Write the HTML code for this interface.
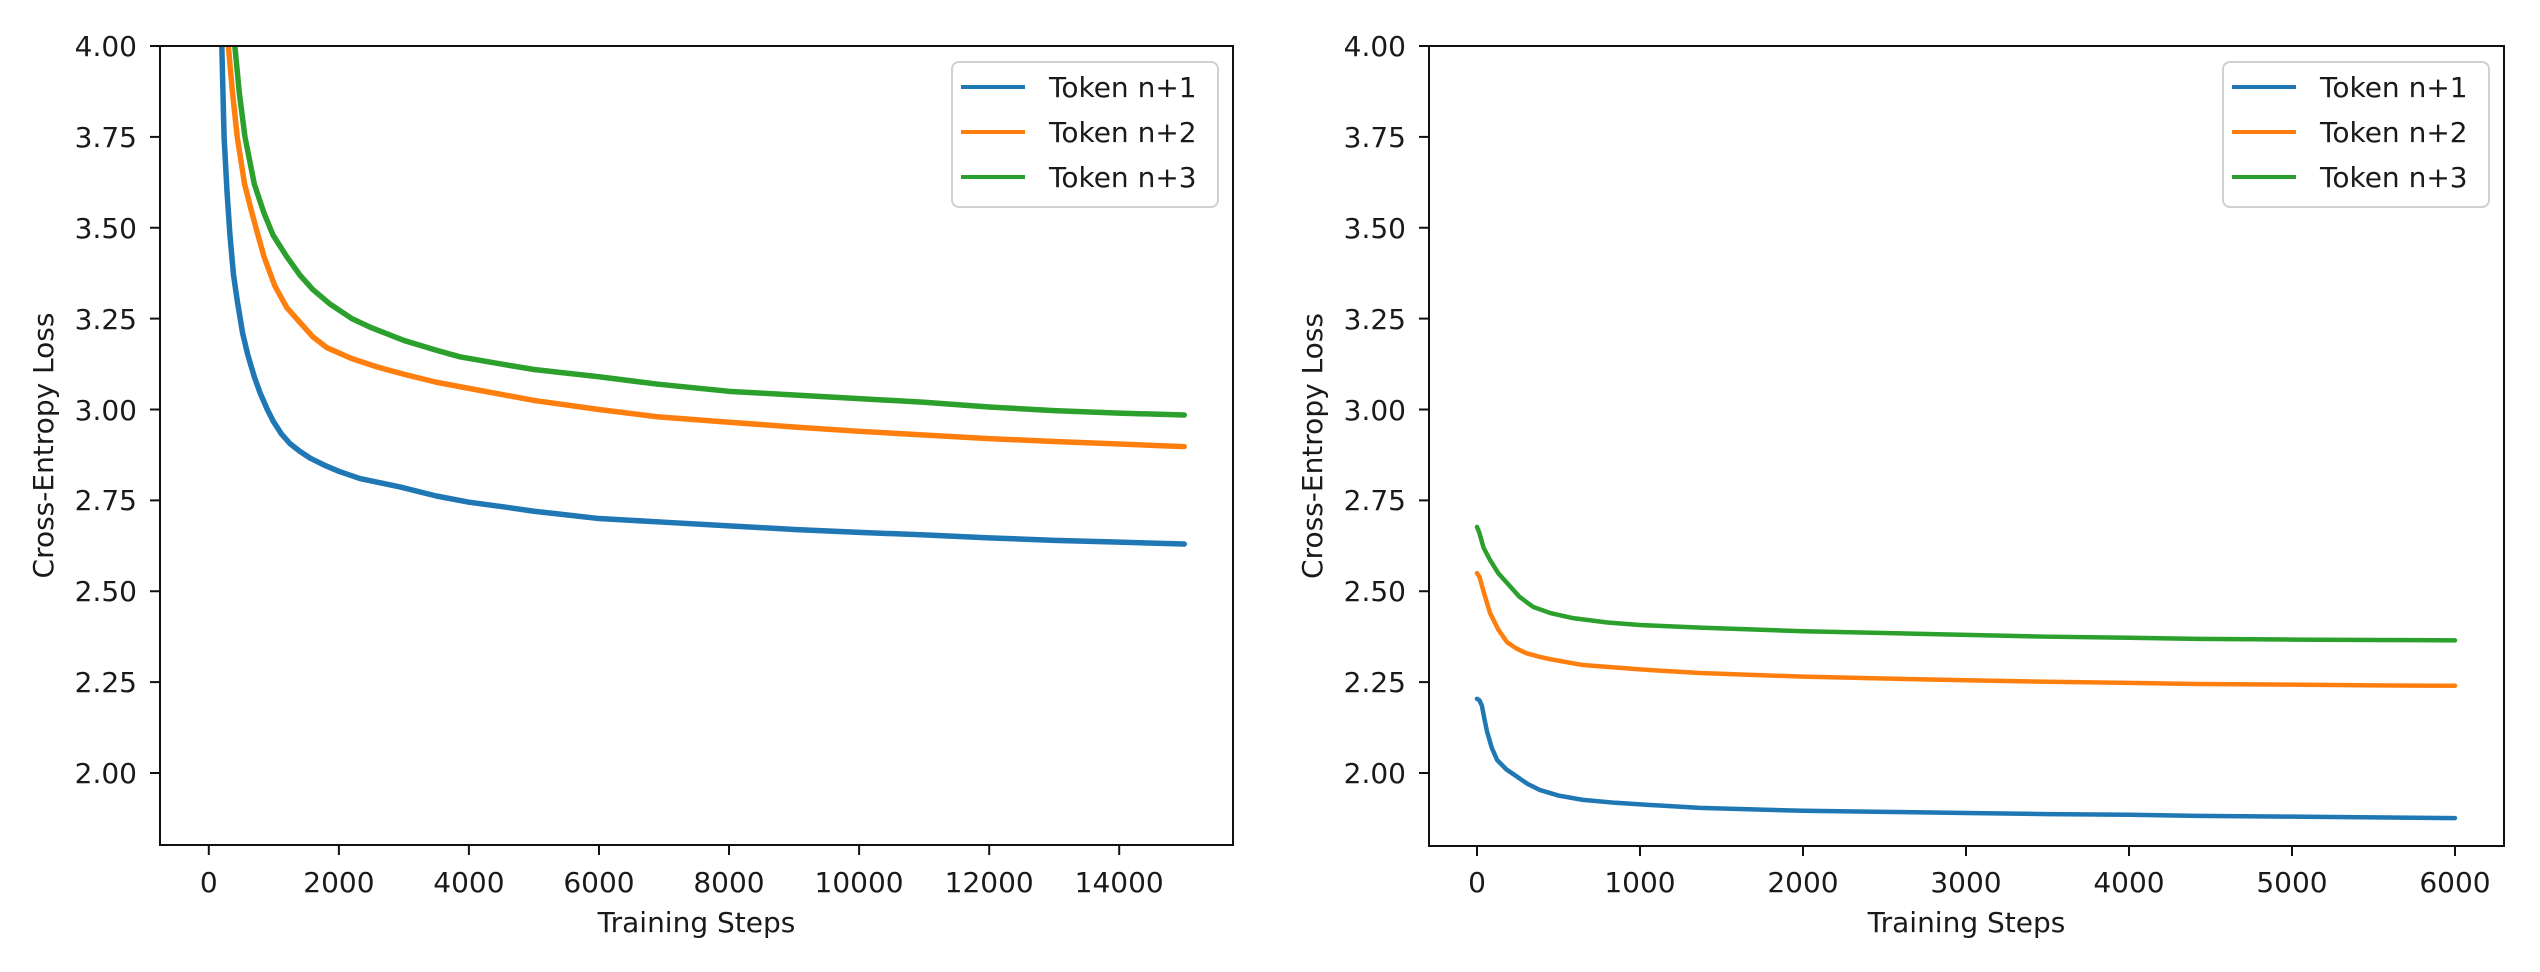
<!DOCTYPE html>
<html>
<head>
<meta charset="utf-8">
<style>
  html,body{margin:0;padding:0;background:#fff;}
  svg{display:block;}
  text{font-family:"DejaVu Sans","Liberation Sans",sans-serif;fill:#1a1a1a;}
</style>
</head>
<body>
<svg width="2540" height="972" viewBox="0 0 2540 972" xmlns="http://www.w3.org/2000/svg">
  <defs>
    <clipPath id="cl" clipPathUnits="userSpaceOnUse"><rect x="160" y="46" width="1073" height="799"/></clipPath>
    <clipPath id="cr" clipPathUnits="userSpaceOnUse"><rect x="1429" y="46" width="1075" height="800"/></clipPath>
  </defs>
  <rect width="2540" height="972" fill="#fff"/>

  <!-- ============ LEFT CHART ============ -->
  <g clip-path="url(#cl)">
    <g transform="matrix(0.06503,0,0,-363.5,208.8,1500)" fill="none" stroke-linejoin="round" stroke-linecap="round">
      <polyline vector-effect="non-scaling-stroke" stroke="#1f77b4" stroke-width="5.5" points="50,8 100,6 150,4.6 200,4.0 235,3.75 280,3.6 325,3.48 380,3.37 437,3.3 520,3.21 600,3.15 700,3.09 790,3.045 900,3.0 990,2.968 1120,2.932 1250,2.906 1400,2.885 1560,2.866 1800,2.845 2000,2.83 2325,2.81 2940,2.787 3500,2.762 4000,2.745 4500,2.733 5000,2.72 5500,2.71 6000,2.70 7000,2.69 8000,2.68 9000,2.67 10000,2.662 11000,2.655 12000,2.647 13000,2.64 14000,2.635 15000,2.63"/>
      <polyline vector-effect="non-scaling-stroke" stroke="#ff7f0e" stroke-width="5.5" points="100,9 200,6 260,4.6 300,4.0 360,3.88 437,3.75 550,3.62 650,3.55 740,3.49 850,3.42 1016,3.34 1200,3.28 1400,3.24 1600,3.2 1817,3.17 2200,3.14 2590,3.117 3000,3.097 3500,3.075 4125,3.054 5000,3.025 6000,3.0 6890,2.98 8000,2.965 9000,2.952 10000,2.94 11000,2.93 12000,2.92 13000,2.912 14000,2.905 15000,2.898"/>
      <polyline vector-effect="non-scaling-stroke" stroke="#2ca02c" stroke-width="5.5" points="150,9 250,6 330,4.6 400,4.0 470,3.87 556,3.75 700,3.62 850,3.54 987,3.48 1200,3.42 1400,3.37 1600,3.33 1864,3.29 2200,3.25 2500,3.225 3000,3.19 3500,3.163 3860,3.145 4500,3.125 5000,3.11 6000,3.09 6890,3.07 8000,3.05 9000,3.04 10000,3.03 11000,3.02 12000,3.007 13000,2.997 14000,2.99 15000,2.985"/>
    </g>
  </g>
  <rect x="160" y="46" width="1073" height="799" fill="none" stroke="#111" stroke-width="2"/>
  <g stroke="#111" stroke-width="2">
    <line x1="150" y1="46" x2="160" y2="46"/>
    <line x1="150" y1="136.9" x2="160" y2="136.9"/>
    <line x1="150" y1="227.75" x2="160" y2="227.75"/>
    <line x1="150" y1="318.6" x2="160" y2="318.6"/>
    <line x1="150" y1="409.5" x2="160" y2="409.5"/>
    <line x1="150" y1="500.4" x2="160" y2="500.4"/>
    <line x1="150" y1="591.25" x2="160" y2="591.25"/>
    <line x1="150" y1="682.1" x2="160" y2="682.1"/>
    <line x1="150" y1="773" x2="160" y2="773"/>
  </g>
  <g font-size="28" text-anchor="end">
    <text x="137" y="56">4.00</text>
    <text x="137" y="147">3.75</text>
    <text x="137" y="238">3.50</text>
    <text x="137" y="329">3.25</text>
    <text x="137" y="420">3.00</text>
    <text x="137" y="510">2.75</text>
    <text x="137" y="601">2.50</text>
    <text x="137" y="692">2.25</text>
    <text x="137" y="783">2.00</text>
  </g>
  <g stroke="#111" stroke-width="2">
    <line x1="208.8" y1="845" x2="208.8" y2="855"/>
    <line x1="338.9" y1="845" x2="338.9" y2="855"/>
    <line x1="468.9" y1="845" x2="468.9" y2="855"/>
    <line x1="599" y1="845" x2="599" y2="855"/>
    <line x1="729" y1="845" x2="729" y2="855"/>
    <line x1="859.1" y1="845" x2="859.1" y2="855"/>
    <line x1="989.2" y1="845" x2="989.2" y2="855"/>
    <line x1="1119.2" y1="845" x2="1119.2" y2="855"/>
  </g>
  <g font-size="28" text-anchor="middle">
    <text x="208.8" y="892">0</text>
    <text x="338.9" y="892">2000</text>
    <text x="468.9" y="892">4000</text>
    <text x="599" y="892">6000</text>
    <text x="729" y="892">8000</text>
    <text x="859.1" y="892">10000</text>
    <text x="989.2" y="892">12000</text>
    <text x="1119.2" y="892">14000</text>
  </g>
  <text x="696.5" y="932" font-size="28" text-anchor="middle">Training Steps</text>
  <text transform="translate(53,445.5) rotate(-90)" font-size="28" text-anchor="middle">Cross-Entropy Loss</text>
  <rect x="952" y="62" width="266" height="145" rx="7" ry="7" fill="#fff" fill-opacity="0.8" stroke="#d0d0d0" stroke-width="2"/>
  <line x1="961" y1="87" x2="1025" y2="87" stroke="#1f77b4" stroke-width="4"/>
  <line x1="961" y1="132" x2="1025" y2="132" stroke="#ff7f0e" stroke-width="4"/>
  <line x1="961" y1="177" x2="1025" y2="177" stroke="#2ca02c" stroke-width="4"/>
  <g font-size="28">
    <text x="1049" y="97">Token n+1</text>
    <text x="1049" y="142">Token n+2</text>
    <text x="1049" y="187">Token n+3</text>
  </g>

  <!-- ============ RIGHT CHART ============ -->
  <g clip-path="url(#cr)">
    <g transform="matrix(0.163,0,0,-363.5,1477,1500)" fill="none" stroke-linejoin="round" stroke-linecap="round">
      <polyline vector-effect="non-scaling-stroke" stroke="#1f77b4" stroke-width="4.5" points="0,2.204 15,2.2 30,2.185 45,2.15 61,2.115 90,2.07 123,2.036 180,2.01 245,1.99 310,1.97 387,1.953 500,1.938 650,1.926 850,1.918 1061,1.912 1368,1.904 2000,1.896 2500,1.893 3000,1.89 3500,1.887 4000,1.885 4417,1.882 5000,1.88 5500,1.878 6000,1.876"/>
      <polyline vector-effect="non-scaling-stroke" stroke="#ff7f0e" stroke-width="4.5" points="0,2.55 15,2.54 40,2.5 80,2.44 130,2.395 184,2.36 240,2.343 300,2.33 380,2.32 450,2.313 650,2.297 1000,2.285 1368,2.275 2000,2.265 2500,2.26 3000,2.255 3500,2.251 4000,2.248 4417,2.245 5000,2.243 5500,2.241 6000,2.24"/>
      <polyline vector-effect="non-scaling-stroke" stroke="#2ca02c" stroke-width="4.5" points="0,2.677 15,2.66 40,2.62 80,2.586 130,2.55 184,2.523 260,2.485 344,2.457 450,2.44 590,2.426 800,2.414 1000,2.407 1368,2.40 2000,2.39 2500,2.385 3000,2.38 3500,2.375 4000,2.372 4417,2.369 5000,2.367 5500,2.366 6000,2.365"/>
    </g>
  </g>
  <rect x="1429" y="46" width="1075" height="800" fill="none" stroke="#111" stroke-width="2"/>
  <g stroke="#111" stroke-width="2">
    <line x1="1419" y1="46" x2="1429" y2="46"/>
    <line x1="1419" y1="136.9" x2="1429" y2="136.9"/>
    <line x1="1419" y1="227.75" x2="1429" y2="227.75"/>
    <line x1="1419" y1="318.6" x2="1429" y2="318.6"/>
    <line x1="1419" y1="409.5" x2="1429" y2="409.5"/>
    <line x1="1419" y1="500.4" x2="1429" y2="500.4"/>
    <line x1="1419" y1="591.25" x2="1429" y2="591.25"/>
    <line x1="1419" y1="682.1" x2="1429" y2="682.1"/>
    <line x1="1419" y1="773" x2="1429" y2="773"/>
  </g>
  <g font-size="28" text-anchor="end">
    <text x="1406" y="56">4.00</text>
    <text x="1406" y="147">3.75</text>
    <text x="1406" y="238">3.50</text>
    <text x="1406" y="329">3.25</text>
    <text x="1406" y="420">3.00</text>
    <text x="1406" y="510">2.75</text>
    <text x="1406" y="601">2.50</text>
    <text x="1406" y="692">2.25</text>
    <text x="1406" y="783">2.00</text>
  </g>
  <g stroke="#111" stroke-width="2">
    <line x1="1477" y1="846" x2="1477" y2="856"/>
    <line x1="1640" y1="846" x2="1640" y2="856"/>
    <line x1="1803" y1="846" x2="1803" y2="856"/>
    <line x1="1966" y1="846" x2="1966" y2="856"/>
    <line x1="2129" y1="846" x2="2129" y2="856"/>
    <line x1="2292" y1="846" x2="2292" y2="856"/>
    <line x1="2455" y1="846" x2="2455" y2="856"/>
  </g>
  <g font-size="28" text-anchor="middle">
    <text x="1477" y="892">0</text>
    <text x="1640" y="892">1000</text>
    <text x="1803" y="892">2000</text>
    <text x="1966" y="892">3000</text>
    <text x="2129" y="892">4000</text>
    <text x="2292" y="892">5000</text>
    <text x="2455" y="892">6000</text>
  </g>
  <text x="1966.5" y="932" font-size="28" text-anchor="middle">Training Steps</text>
  <text transform="translate(1322,446) rotate(-90)" font-size="28" text-anchor="middle">Cross-Entropy Loss</text>
  <rect x="2223" y="62" width="266" height="145" rx="7" ry="7" fill="#fff" fill-opacity="0.8" stroke="#d0d0d0" stroke-width="2"/>
  <line x1="2232" y1="87" x2="2296" y2="87" stroke="#1f77b4" stroke-width="4"/>
  <line x1="2232" y1="132" x2="2296" y2="132" stroke="#ff7f0e" stroke-width="4"/>
  <line x1="2232" y1="177" x2="2296" y2="177" stroke="#2ca02c" stroke-width="4"/>
  <g font-size="28">
    <text x="2320" y="97">Token n+1</text>
    <text x="2320" y="142">Token n+2</text>
    <text x="2320" y="187">Token n+3</text>
  </g>
</svg>
</body>
</html>
